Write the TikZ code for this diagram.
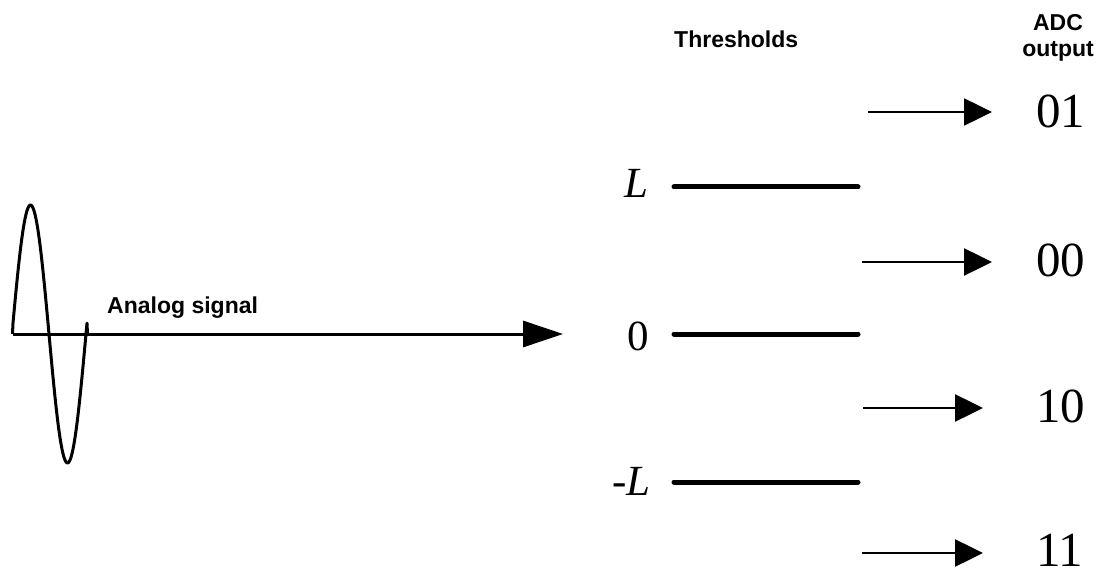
\documentclass[tikz,border=0pt]{standalone}
\usepackage{fontspec}
\setmainfont{Liberation Serif}
\setsansfont{Liberation Sans}
\usetikzlibrary{arrows.meta}

\begin{document}
\begin{tikzpicture}[x=1pt, y=-1pt,
  caption/.style={font=\sffamily\bfseries\fontsize{23}{26}\selectfont, inner sep=0},
  level/.style={font=\fontsize{43}{48}\selectfont, inner sep=0, anchor=east},
  code/.style={font=\fontsize{49}{52}\selectfont, inner sep=0, anchor=west},
  thresh/.style={line width=5pt, line cap=round},
  wave/.style={line width=3pt, line join=round},
  signal/.style={line width=3pt, -{Triangle[length=40pt, width=26pt]}},
  outarrow/.style={line width=2.5pt, -{Triangle[length=28pt, width=27pt]}},
]
\useasboundingbox (0,0) rectangle (1101,572);

% Define nodes
\path
(649,183) node[level] (lblL) {\itshape L}
(649,336) node[level] (lbl0) {0}
(651,481) node[level] (lblmL) {\itshape -L}
(1036,111) node[code] (out01) {01}
(1036,260) node[code] (out00) {00}
(1036,406) node[code] (out10) {10}
(1036,550) node[code] (out11) {11}
;

\path
(674,48) node[caption, anchor=base west] (thresholds) {Thresholds}
(107,313) node[caption, anchor=base west] (analog) {Analog signal}
(1058,14) node[caption, anchor=north, align=center] (adc) {ADC\\output}
;

\coordinate (origin) at (12.5,334);
\coordinate (waveend) at (87.5,334);
\coordinate (s01) at (868,112);
\coordinate (s00) at (862,262);
\coordinate (s10) at (863,408);
\coordinate (s11) at (862,553);

% analog signal
\draw[wave] (origin) -- plot[domain=13:87, samples=75] (\x, {334-129*sin(360*(49-\x)/74)}) -- (waveend);
\draw[signal, shorten >=64pt] (origin) -- (origin -| lbl0.west);

% thresholds
\draw[thresh] ([xshift=25pt]lblL.east |- 0,187) -- ++(184,0);
\draw[thresh] ([xshift=25pt]lbl0.east |- 0,334) -- ++(184,0);
\draw[thresh] ([xshift=23pt]lblmL.east |- 0,482) -- ++(184,0);

% outputs
\draw[outarrow, shorten >=44pt] (s01) -- (s01 -| out01.west);
\draw[outarrow, shorten >=44pt] (s00) -- (s00 -| out00.west);
\draw[outarrow, shorten >=53pt] (s10) -- (s10 -| out10.west);
\draw[outarrow, shorten >=53pt] (s11) -- (s11 -| out11.west);

\end{tikzpicture}
\end{document}
